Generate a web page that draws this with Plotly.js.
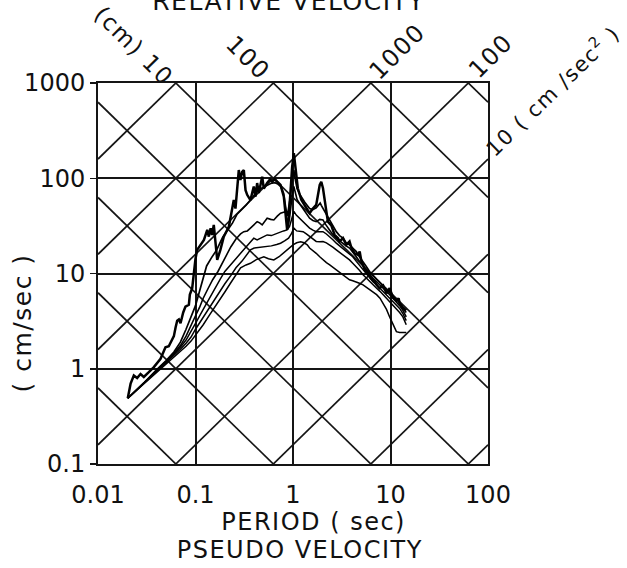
<!DOCTYPE html>
<html>
<head>
<meta charset="utf-8">
<script src="https://cdn.plot.ly/plotly-3.0.1.min.js"></script>
<style>
html,body{margin:0;padding:0;background:#fff;}
#chart{width:627px;height:568px;}
#chart .annotation-text{letter-spacing:1.5px;}
</style>
</head>
<body>
<div id="chart"></div>
<script>
// ---- Tick labels ----
const periodTicks = [0.01, 0.1, 1, 10, 100];
const periodTickText = ["0.01", "0.1", "1", "10", "100"];
const velTicks = [0.1, 1, 10, 100, 1000];
const velTickText = ["0.1", "1", "10", "100", "1000"];

// ---- Tripartite diagonal grid values ----
const dispValuesCm = [0.001, 0.01, 0.1, 1, 10, 100, 1000, 10000];
const accValuesCms2 = [0.01, 0.1, 1, 10, 100, 1000, 10000, 100000];

// ---- Spectra (period s, pseudo velocity cm/s) ----
const undampedT = [0.0202,0.0216,0.0233,0.0252,0.0273,0.0295,0.0332,0.0374,0.0438,0.0492,0.0532,0.060,0.0624,0.0649,0.0675,0.0702,0.0748,0.0789,0.0855,0.0875,0.0925,0.096,0.0977,0.100,0.104,0.122,0.132,0.137,0.143,0.148,0.154,0.160,0.167,0.180,0.195,0.220,0.238,0.247,0.257,0.267,0.278,0.289,0.301,0.313,0.326,0.339,0.366,0.396,0.412,0.429,0.446,0.483,0.502,0.543,0.58,0.611,0.65,0.689,0.745,0.805,0.871,0.906,0.942,0.98,1.02,1.08,1.12,1.22,1.37,1.48,1.60,1.73,1.88,1.95,2.03,2.11,2.2,2.28,2.47,2.67,2.9,3.0,3.26,3.52,3.8,3.98,4.29,4.64,4.83,5.0,5.43,5.9,6.3,6.9,7.2,7.7,8.4,9.1,9.8,10.6,11.5,12.1,12.4,13.4,14.5];
const undampedV = [0.49,0.70,0.85,0.80,0.88,0.82,0.92,1.04,1.27,1.68,1.72,2.2,2.7,3.2,3.3,3.0,3.9,4.5,4.7,6.0,7.0,9.6,12.2,14.3,17.7,22.5,28.7,24.4,29.9,25.4,32.4,21.6,13.9,17.7,24.4,31.1,46.5,59,48,75,122,96,117,122,75,67,59,82,64,89,70,104,78,89,97,92,98,92,85,64,28.7,39.6,70,132,183,108,78.5,59,48,43,48,52.5,85,92,78.5,57,44.7,35,32,25.5,23.5,21.7,23.5,20,21.7,18.5,16.3,15.7,17,13.9,11,10,8.9,8.2,7.6,7.0,7.5,6.2,7.0,5.6,5.2,5.5,4.9,4.4,4.1];

const damp2T = [0.0202,0.03,0.04,0.05,0.06,0.07,0.08,0.09,0.1,0.11,0.12,0.13,0.145,0.165,0.19,0.215,0.24,0.267,0.3,0.33,0.36,0.4,0.43,0.47,0.5,0.54,0.59,0.65,0.7,0.745,0.8,0.84,0.87,0.9,0.94,0.98,1.02,1.06,1.1,1.17,1.25,1.32,1.48,1.6,1.73,1.9,1.95,2.11,2.38,2.6,2.78,3.0,3.26,3.5,3.8,4.2,4.46,4.8,5.23,5.6,6.1,6.6,7.2,7.8,8.4,9.1,9.8,10.6,11.5,12.4,13.4,14.5];
const damp2V = [0.49,0.72,0.98,1.22,1.5,1.9,2.6,3.5,4.6,6.5,9,12,14.5,17.7,24,29,34,42,47,52,58,66,73,78,81,85,88,90,87,82,70,50,40,48,64,95,122,95,78,68,60,56,48,47,49,55,52,45,36,30,27.5,25,23.5,21,20,18,17,15,13.4,12,10.5,9.5,8.7,8.0,7.4,6.9,6.4,5.9,5.4,4.9,4.3,3.9];

const damp5T = [0.0202,0.03,0.04,0.05,0.06,0.07,0.08,0.09,0.1,0.11,0.12,0.135,0.15,0.17,0.19,0.21,0.23,0.26,0.29,0.313,0.34,0.366,0.40,0.429,0.455,0.483,0.51,0.543,0.59,0.636,0.69,0.745,0.8,0.84,0.87,0.89,0.92,0.94,0.98,1.02,1.06,1.1,1.17,1.27,1.37,1.48,1.6,1.73,1.88,2.03,2.15,2.28,2.5,2.78,3.0,3.26,3.5,3.8,4.1,4.46,4.8,5.23,5.6,6.1,6.6,7.2,7.8,8.4,9.1,9.8,10.6,11.5,12.4,13.4,14.5];
const damp5V = [0.49,0.72,0.96,1.2,1.45,1.75,2.2,2.8,3.6,4.4,5.5,7,8.6,10.5,13,15.5,19,23,26,27.5,28,30,33,35,34,32.4,35,38,37,36.5,40,43,44,44.7,36,31,38,46.5,65,82,70,60,54,48,42,38,36,35,37,36.5,33,30,26.5,23.5,22,20.8,19.5,18.5,16.5,15,13.5,12.3,11,9.7,8.9,8.2,7.5,7.0,6.5,6.0,5.5,5.1,4.6,4.1,3.5];

const damp10T = [0.0202,0.03,0.04,0.05,0.06,0.07,0.08,0.09,0.1,0.12,0.14,0.16,0.18,0.2,0.23,0.26,0.29,0.33,0.366,0.396,0.429,0.47,0.5,0.543,0.6,0.689,0.75,0.8,0.87,0.92,0.96,1.0,1.02,1.08,1.17,1.27,1.37,1.48,1.6,1.73,1.88,2.03,2.2,2.38,2.58,2.78,3.0,3.26,3.5,3.8,4.1,4.46,4.8,5.23,5.6,6.1,6.6,7.2,7.8,8.4,9.1,9.8,10.6,11.5,12.4,13.4,14.5];
const damp10V = [0.49,0.71,0.95,1.18,1.42,1.68,2.0,2.45,3.0,4.2,5.6,7.2,8.8,10.5,12.5,14.5,16.3,19,21.5,23.5,22.5,23.5,24.5,25.4,25,26.5,27.5,28,28.7,31,36,42,45,41,38,35,32,30,28.5,27.5,27.5,27.5,26,24.4,22.5,20.8,19.5,18.5,17.3,16.3,15,13.4,12.2,11,10,8.9,8.2,7.6,7.0,6.5,6.0,5.5,5.1,4.7,4.3,3.8,3.2];

const damp20T = [0.0202,0.03,0.04,0.05,0.06,0.07,0.08,0.09,0.1,0.12,0.14,0.16,0.18,0.2,0.23,0.26,0.3,0.33,0.366,0.4,0.45,0.5,0.543,0.6,0.68,0.745,0.82,0.9,0.96,1.02,1.09,1.17,1.27,1.37,1.48,1.6,1.73,1.88,2.03,2.2,2.38,2.58,2.78,3.0,3.26,3.5,3.8,4.1,4.46,4.8,5.23,5.6,6.1,6.6,7.2,7.8,8.4,9.1,9.8,10.6,11.5,12.4,13.4,14.5];
const damp20V = [0.49,0.71,0.94,1.16,1.38,1.6,1.85,2.15,2.6,3.5,4.5,5.5,6.6,7.8,9.5,11.5,13.5,15.5,17.7,18.5,18.8,19,19.2,19.5,20.2,20.8,22,23.5,26,30,28,27.8,27.5,26,24.4,23,21.7,21.5,21.7,21,20,18.8,17.7,16.7,15.7,14.8,13.9,12.8,11.8,10.8,9.7,9.0,8.2,7.6,7.0,6.5,6.0,5.5,5.1,4.7,4.3,3.9,3.5,2.9];

const damp40T = [0.0202,0.03,0.04,0.05,0.06,0.07,0.08,0.09,0.1,0.12,0.14,0.16,0.18,0.2,0.23,0.26,0.29,0.33,0.366,0.42,0.502,0.56,0.636,0.72,0.8,0.87,0.93,1.0,1.09,1.2,1.3,1.4,1.48,1.6,1.73,1.88,2.03,2.2,2.38,2.58,2.78,3.0,3.26,3.5,3.8,4.1,4.46,4.8,5.23,5.6,6.1,6.6,7.2,7.8,8.4,9.1,9.8,10.6,11.5,12.4,13.4,14.5];
const damp40V = [0.49,0.7,0.92,1.13,1.33,1.52,1.72,1.95,2.25,2.9,3.7,4.5,5.4,6.4,8.0,9.8,11.5,12.3,12.8,14,15,14.3,13.9,15,16.5,17.7,18.5,20,21,21.5,21,20,18.5,17.5,16.3,15,13.9,13,12.3,11.6,11,10.3,9.7,9.1,8.6,8.4,8.2,7.9,7.6,7.2,6.7,6.3,6.0,5.5,4.8,4.2,3.5,2.9,2.45,2.4,2.4,2.4];

const FONT = "'DejaVu Sans', sans-serif";
const PL = 98, PR = 488, PT = 83, PB = 464;
function px(x){ return (x - PL) / (PR - PL); }
function py(y){ return (PB - y) / (PB - PT); }

const traces = [];
const TWO_PI = 2 * Math.PI;
const tEnds = [periodTicks[0], periodTicks[periodTicks.length - 1]];
dispValuesCm.forEach(d => {
  traces.push({x: tEnds, y: tEnds.map(t => TWO_PI * d / t), mode: 'lines',
    line: {color: '#151515', width: 1.7}, hoverinfo: 'skip', showlegend: false});
});
accValuesCms2.forEach(a => {
  traces.push({x: tEnds, y: tEnds.map(t => a * t / TWO_PI), mode: 'lines',
    line: {color: '#151515', width: 1.7}, hoverinfo: 'skip', showlegend: false});
});

const spectra = [
  [undampedT, undampedV, 2.5],
  [damp2T, damp2V, 1.7],
  [damp5T, damp5V, 1.6],
  [damp10T, damp10V, 1.5],
  [damp20T, damp20V, 1.5],
  [damp40T, damp40V, 1.5]
];
spectra.forEach(s => {
  traces.push({x: s[0], y: s[1], mode: 'lines', line: {color: '#000', width: s[2]},
    showlegend: false});
});

function ann(text, x, y, angle, size){
  return {text: text, xref: 'paper', yref: 'paper', x: px(x), y: py(y),
    xanchor: 'center', yanchor: 'middle', showarrow: false, textangle: angle || 0,
    font: {family: FONT, size: size || 24, color: '#111'}};
}

const layout = {
  width: 627, height: 568,
  margin: {l: PL, r: 627 - PR, t: PT, b: 568 - PB},
  paper_bgcolor: '#fff', plot_bgcolor: '#fff',
  showlegend: false,
  font: {family: FONT, color: '#111'},
  xaxis: {type: 'log', range: [-2, 2], tickvals: periodTicks, ticktext: periodTickText,
    showgrid: true, gridcolor: '#151515', gridwidth: 2, zeroline: false,
    showline: true, mirror: true, linecolor: '#151515', linewidth: 2,
    ticks: '', ticklabelstandoff: 8, tickfont: {family: FONT, size: 24, color: '#111'}},
  yaxis: {type: 'log', range: [-1, 3], tickvals: velTicks, ticktext: velTickText,
    showgrid: true, gridcolor: '#151515', gridwidth: 2, zeroline: false,
    showline: true, mirror: true, linecolor: '#151515', linewidth: 2,
    ticks: 'outside', ticklen: 6, tickwidth: 1.5, tickcolor: '#151515',
    tickfont: {family: FONT, size: 24, color: '#111'}},
  annotations: [
    ann('RELATIVE VELOCITY', 289, 1, 0, 25),
    ann('(cm) 10', 134, 46, 45, 23),
    ann('100', 248, 58, 45, 24),
    ann('1000', 397, 52, -45, 24),
    ann('100', 491, 56, -45, 24),
    ann('10 ( cm /sec<sup>2</sup> )', 552, 90, -44, 21),
    ann('( cm/sec )', 22, 323, -90, 25),
    ann('PERIOD ( sec)', 313, 522, 0, 24),
    ann('PSEUDO VELOCITY', 300, 550, 0, 24)
  ]
};

Plotly.newPlot('chart', traces, layout, {staticPlot: true, displayModeBar: false});
</script>
</body>
</html>
